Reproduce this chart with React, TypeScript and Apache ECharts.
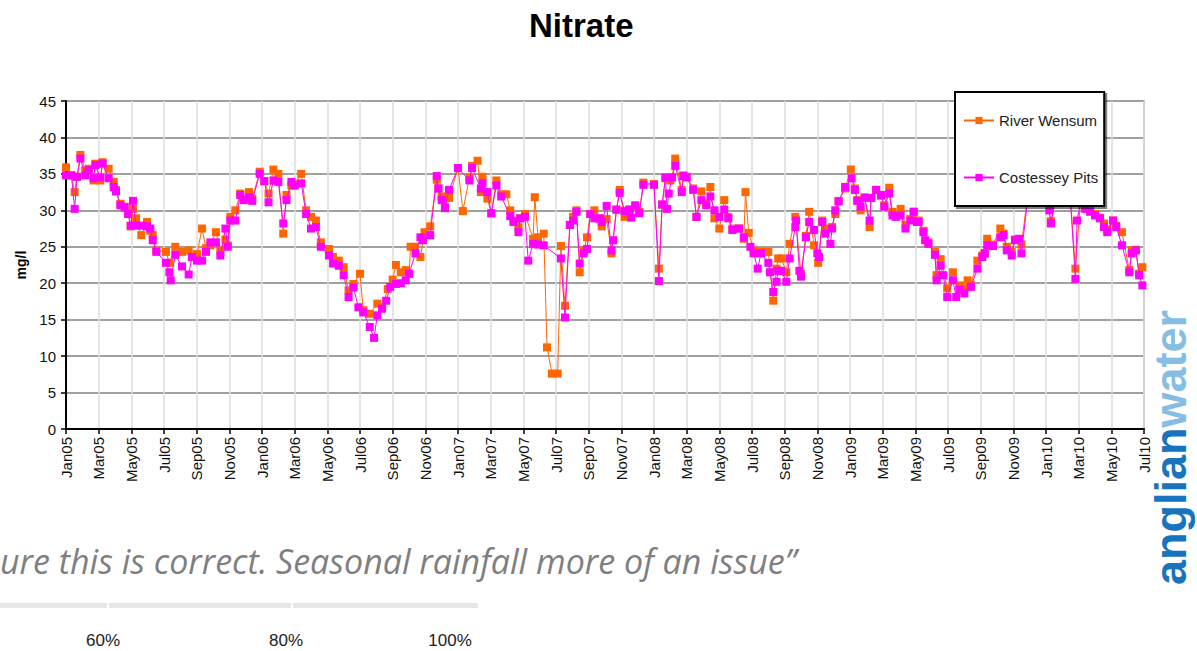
import React, { useEffect, useRef } from "react";
import * as echarts from "echarts";

// Months since 1 Jan 2005 (x) and nitrate in mg/l (y)
const wensumMonths = [
  0.0, 0.33, 0.53, 0.67, 0.88, 1.18, 1.39, 1.69, 1.8, 2.1, 2.24, 2.61, 2.92, 3.06, 3.33, 3.59, 3.8, 3.96, 4.1, 4.29,
  4.61, 4.96, 5.16, 5.31, 5.53, 6.12, 6.33, 6.69, 7.1, 7.51, 7.71, 8.02, 8.33, 8.57, 8.84, 9.18, 9.45, 9.76, 9.9, 10.06,
  10.37, 10.67, 10.88, 11.2, 11.4, 11.86, 12.14, 12.4, 12.7, 13.0, 13.3, 13.5, 13.8, 14.0, 14.4, 14.7, 15.0, 15.3, 15.6, 16.1,
  16.35, 16.7, 17.0, 17.3, 17.6, 18.0, 18.2, 18.6, 19.06, 19.35, 19.7, 20.0, 20.2, 20.5, 20.8, 21.0, 21.1, 21.35, 21.7, 21.95,
  22.3, 22.7, 22.8, 23.0, 23.2, 23.45, 24.0, 24.3, 24.7, 24.86, 25.2, 25.4, 25.5, 25.8, 26.04, 26.35, 26.65, 26.96, 27.2, 27.4,
  27.7, 27.8, 28.1, 28.6, 28.7, 28.9, 29.25, 29.45, 29.75, 30.1, 30.3, 30.55, 30.85, 31.05, 31.25, 31.45, 31.7, 31.9, 32.1, 32.35,
  32.65, 32.8, 33.1, 33.4, 33.7, 33.9, 34.2, 34.5, 34.85, 35.1, 35.35, 36.0, 36.3, 36.5, 36.7, 37.0, 37.1, 37.3, 37.7, 37.8,
  38.0, 38.4, 38.6, 38.9, 39.2, 39.45, 39.7, 40.0, 40.3, 40.55, 40.8, 41.2, 41.5, 41.6, 41.8, 42.1, 42.55, 43.0, 43.3, 43.5,
  43.6, 43.8, 44.1, 44.3, 44.65, 45.0, 45.3, 45.5, 45.8, 46.05, 46.3, 46.5, 46.9, 47.1, 47.3, 47.7, 48.05, 48.3, 48.45, 48.65,
  48.9, 49.2, 49.3, 49.6, 49.9, 50.1, 50.4, 50.6, 50.8, 51.1, 51.4, 51.7, 51.9, 52.2, 52.5, 52.8, 53.2, 53.3, 53.55, 53.95,
  54.3, 54.7, 55.0, 55.2, 55.4, 55.8, 56.1, 56.25, 56.4, 56.75, 57.2, 57.4, 57.6, 57.9, 58.1, 58.5, 58.9, 59.3, 59.7, 60.05,
  60.3, 60.6, 61.0, 61.5, 61.8, 62.1, 62.4, 62.7, 63.0, 63.3, 63.55, 63.75, 64.1, 64.3, 64.65, 65.1, 65.25, 65.5, 65.7, 65.9,
];
const wensumValues = [
  35.9, 34.8, 32.5, 34.6, 37.6, 35.5, 35.7, 34.1, 36.4, 34.1, 36.6, 35.7, 33.9, 32.8, 30.9, 30.5, 29.6, 27.8, 30.2, 28.9,
  26.6, 28.4, 27.2, 26.6, 24.5, 24.3, 22.8, 25.0, 24.3, 24.5, 23.6, 24.0, 27.5, 24.8, 25.2, 27.0, 24.5, 26.0, 25.2, 29.1,
  30.0, 32.3, 31.5, 32.5, 31.6, 35.3, 34.0, 32.3, 35.6, 35.0, 26.8, 32.1, 33.4, 33.6, 35.0, 30.0, 29.1, 28.6, 25.6, 24.7,
  23.6, 23.1, 22.2, 19.0, 19.9, 21.3, 16.3, 15.8, 17.2, 16.7, 19.2, 20.5, 22.5, 21.5, 21.8, 21.3, 25.0, 25.0, 23.6, 27.0,
  27.8, 34.2, 33.0, 31.9, 30.5, 31.7, 35.8, 29.9, 34.5, 36.1, 36.8, 32.5, 34.6, 31.6, 29.6, 34.1, 32.2, 32.2, 30.0, 28.6,
  27.7, 28.9, 29.5, 26.1, 31.8, 26.3, 26.8, 11.2, 7.6, 7.6, 25.1, 16.9, 28.0, 29.1, 30.0, 21.5, 24.5, 26.3, 29.5, 30.0,
  28.9, 27.8, 28.8, 24.1, 30.1, 32.8, 29.1, 30.1, 30.5, 29.8, 33.8, 33.6, 22.0, 30.8, 34.4, 34.1, 34.5, 37.1, 32.8, 34.8,
  34.6, 33.0, 29.1, 32.6, 30.9, 33.2, 28.9, 27.5, 31.4, 29.1, 27.5, 27.5, 26.1, 32.5, 26.9, 24.5, 24.3, 24.3, 17.6, 22.0,
  23.4, 23.4, 21.5, 25.4, 29.1, 21.3, 26.5, 29.8, 25.2, 22.8, 28.6, 27.5, 27.7, 29.5, 31.3, 33.0, 35.6, 33.0, 31.4, 30.0,
  31.8, 27.7, 31.7, 32.8, 32.0, 30.7, 33.1, 29.8, 29.3, 30.2, 28.0, 28.8, 29.8, 28.6, 27.2, 25.6, 24.3, 21.1, 23.3, 19.3,
  21.5, 19.7, 19.3, 20.4, 19.8, 23.1, 23.8, 24.1, 26.1, 25.3, 27.5, 26.8, 25.0, 24.3, 26.0, 25.3, 32.5, 31.5, 32.0, 31.5,
  28.5, 31.5, 32.0, 31.6, 22.0, 31.0, 30.4, 30.0, 29.5, 29.0, 28.2, 27.4, 28.6, 27.9, 27.0, 21.8, 24.5, 24.6, 21.3, 22.2,
];

const costesseyMonths = [
  0.0, 0.33, 0.53, 0.67, 0.88, 1.18, 1.39, 1.69, 1.8, 2.1, 2.24, 2.61, 2.92, 3.06, 3.33, 3.59, 3.8, 3.96, 4.1, 4.29,
  4.61, 4.96, 5.16, 5.31, 5.53, 6.12, 6.33, 6.41, 6.69, 7.1, 7.51, 7.71, 8.02, 8.33, 8.57, 8.84, 9.18, 9.45, 9.76, 9.9,
  10.06, 10.37, 10.67, 10.88, 11.2, 11.4, 11.86, 12.14, 12.4, 12.7, 13.0, 13.3, 13.5, 13.8, 14.0, 14.4, 14.7, 15.0, 15.3, 15.6,
  16.1, 16.35, 16.7, 17.0, 17.3, 17.6, 17.9, 18.2, 18.6, 18.86, 19.06, 19.35, 19.6, 19.85, 20.2, 20.5, 20.8, 21.0, 21.4, 21.7,
  21.85, 22.3, 22.7, 22.8, 23.0, 23.2, 23.45, 24.0, 24.7, 24.86, 25.4, 25.5, 25.8, 26.04, 26.35, 26.65, 27.2, 27.4, 27.7, 27.8,
  28.1, 28.3, 28.6, 28.9, 29.25, 30.3, 30.55, 30.85, 31.05, 31.25, 31.45, 31.7, 31.9, 32.1, 32.35, 32.65, 32.8, 33.1, 33.4, 33.5,
  33.7, 33.9, 34.2, 34.5, 34.6, 34.85, 35.1, 35.35, 36.0, 36.3, 36.5, 36.7, 36.8, 36.9, 37.1, 37.3, 37.7, 37.8, 38.0, 38.4,
  38.6, 38.9, 39.2, 39.45, 39.7, 40.0, 40.3, 40.55, 40.8, 41.2, 41.5, 41.9, 42.1, 42.35, 42.55, 43.0, 43.1, 43.3, 43.5, 43.6,
  43.8, 44.1, 44.3, 44.65, 44.7, 44.9, 45.0, 45.3, 45.5, 45.8, 46.0, 46.1, 46.3, 46.5, 46.8, 46.9, 47.1, 47.3, 47.7, 48.1,
  48.3, 48.45, 48.65, 48.9, 49.2, 49.3, 49.6, 49.9, 50.1, 50.4, 50.6, 50.8, 51.1, 51.4, 51.7, 51.9, 52.1, 52.2, 52.5, 52.6,
  52.8, 53.2, 53.3, 53.55, 53.7, 53.95, 54.3, 54.5, 54.7, 55.0, 55.4, 55.8, 56.1, 56.25, 56.4, 56.75, 57.2, 57.4, 57.6, 57.9,
  58.1, 58.35, 58.5, 58.9, 59.3, 59.7, 60.05, 60.2, 60.3, 60.6, 61.0, 61.5, 61.8, 61.9, 62.1, 62.4, 62.7, 63.0, 63.3, 63.55,
  63.75, 64.1, 64.3, 64.65, 65.1, 65.25, 65.5, 65.7, 65.9,
];
const costesseyValues = [
  34.8, 34.8, 30.2, 34.6, 37.1, 34.8, 35.5, 34.4, 36.2, 34.5, 36.4, 34.4, 33.2, 32.6, 30.7, 30.4, 29.5, 27.9, 31.3, 27.9,
  27.9, 27.8, 27.5, 25.9, 24.3, 22.8, 21.5, 20.4, 23.9, 22.3, 21.2, 23.6, 23.1, 23.1, 24.3, 25.6, 25.6, 23.8, 27.5, 25.0,
  28.6, 28.6, 32.1, 31.4, 31.8, 31.3, 35.0, 34.0, 31.1, 34.1, 33.9, 28.2, 31.4, 33.9, 33.4, 33.7, 29.5, 27.5, 27.7, 25.0,
  23.8, 22.7, 22.4, 21.1, 18.1, 19.4, 16.7, 16.0, 14.0, 12.5, 15.6, 16.5, 17.6, 19.5, 19.9, 20.0, 20.4, 21.3, 24.1, 26.3,
  25.9, 26.6, 34.7, 33.0, 31.4, 30.3, 32.8, 35.8, 34.1, 35.8, 33.0, 33.7, 32.5, 29.6, 33.4, 31.9, 29.2, 28.4, 27.0, 28.9,
  29.1, 23.1, 25.4, 25.3, 25.2, 23.4, 15.3, 28.0, 28.6, 29.8, 22.7, 24.1, 24.7, 29.5, 28.9, 28.9, 28.4, 30.6, 24.5, 25.9,
  30.1, 32.4, 29.9, 30.1, 29.0, 30.7, 29.6, 33.5, 33.5, 20.3, 30.8, 34.5, 30.2, 32.3, 34.5, 36.1, 32.5, 34.7, 34.5, 32.8,
  29.1, 31.4, 30.7, 31.9, 30.0, 29.1, 30.1, 28.9, 27.3, 27.5, 26.3, 25.0, 24.1, 22.0, 24.1, 22.8, 21.5, 18.8, 20.2, 21.7,
  21.7, 20.2, 23.4, 27.7, 28.6, 21.7, 20.9, 26.3, 28.4, 27.3, 24.1, 23.6, 28.4, 26.8, 25.4, 27.5, 30.0, 31.2, 33.2, 34.4,
  32.8, 31.3, 30.5, 31.7, 28.6, 31.7, 32.8, 32.1, 30.5, 32.3, 29.3, 29.1, 29.3, 27.5, 28.6, 29.8, 28.4, 28.4, 27.0, 25.9,
  25.4, 23.9, 20.4, 22.4, 21.1, 18.1, 20.4, 18.1, 19.1, 18.6, 19.5, 22.0, 23.6, 24.1, 25.2, 25.1, 26.3, 26.6, 24.5, 23.8,
  25.9, 26.1, 24.1, 32.0, 31.5, 32.5, 31.0, 30.0, 28.2, 31.8, 32.0, 31.2, 20.6, 28.6, 31.0, 30.2, 29.8, 29.3, 28.9, 27.7,
  27.0, 28.6, 27.7, 25.2, 21.5, 24.1, 24.5, 21.1, 19.7,
];

const monthNames = ["Jan", "Feb", "Mar", "Apr", "May", "Jun", "Jul", "Aug", "Sep", "Oct", "Nov", "Dec"];
const yTicks = { min: 0, max: 45, interval: 5 };
const xTicks = { min: 0, max: 66, interval: 2 };
const seriesNames = ["River Wensum", "Costessey Pits"];
const seriesColors = ["#ff6600", "#ff00ff"];
const footerText = "ure this is correct. Seasonal rainfall more of an issue\u201d";
const percentLabels = ["60%", "80%", "100%"];

const FONT = "'Liberation Sans', Arial, sans-serif";

export default function App() {
  const ref = useRef<HTMLDivElement>(null);
  useEffect(() => {
    if (!ref.current) return;
    const chart = echarts.init(ref.current, null, { renderer: "svg" });
    const pair = (xs: number[], ys: number[]) => xs.map((x, i) => [x, ys[i]]);
    const mkSeries = (i: number, data: number[][]) => ({
      name: seriesNames[i],
      type: "line",
      data,
      symbol: "rect",
      symbolSize: 8,
      showAllSymbol: true,
      lineStyle: { color: seriesColors[i], width: 1 },
      itemStyle: { color: seriesColors[i] },
      z: 2 + i,
    });
    chart.setOption({
      animation: false,
      backgroundColor: "#ffffff",
      textStyle: { fontFamily: FONT },
      title: {
        text: "Nitrate",
        left: 524,
        top: 4,
        textStyle: { fontSize: 33, fontWeight: "bold", color: "#000", fontFamily: FONT },
      },
      legend: {
        orient: "vertical",
        left: 955,
        top: 92,
        padding: [21, 6, 21, 8],
        itemGap: 42,
        itemWidth: 30,
        itemHeight: 9,
        backgroundColor: "#ffffff",
        borderColor: "#000",
        borderWidth: 2,
        shadowColor: "rgba(0,0,0,0.5)",
        shadowOffsetX: 2,
        shadowOffsetY: 2,
        shadowBlur: 1,
        textStyle: { fontSize: 15, color: "#222", fontFamily: FONT },
        data: seriesNames,
        z: 10,
      },
      grid: {
        left: 66,
        top: 101,
        right: 53,
        bottom: 222,
        show: true,
        borderColor: "#999",
        borderWidth: 1.5,
        outerBoundsMode: "none",
      },
      xAxis: {
        type: "value",
        min: xTicks.min,
        max: xTicks.max,
        interval: xTicks.interval,
        axisLine: { lineStyle: { color: "#000", width: 2 } },
        axisTick: { show: true, length: 5, lineStyle: { color: "#000", width: 1.5 } },
        axisLabel: {
          rotate: 90,
          margin: 8,
          fontSize: 15,
          color: "#111",
          fontFamily: FONT,
          formatter: (v: number) => {
            const m = Math.round(v);
            const yr = 5 + Math.floor(m / 12);
            return monthNames[m % 12] + String(yr).padStart(2, "0");
          },
        },
        splitLine: { show: true, lineStyle: { color: "#dddddd", width: 1.5 } },
      },
      yAxis: {
        type: "value",
        min: yTicks.min,
        max: yTicks.max,
        interval: yTicks.interval,
        name: "mg/l",
        nameLocation: "middle",
        nameRotate: 90,
        nameGap: 36,
        nameTextStyle: { fontSize: 14, fontWeight: "bold", color: "#000", fontFamily: FONT },
        axisLine: { show: true, lineStyle: { color: "#000", width: 2 } },
        axisTick: { show: true, length: 5, lineStyle: { color: "#000", width: 1.5 } },
        axisLabel: { fontSize: 15, color: "#111", margin: 10, fontFamily: FONT },
        splitLine: { show: true, lineStyle: { color: "#a0a0a0", width: 2 } },
      },
      series: [
        mkSeries(0, pair(wensumMonths, wensumValues)),
        mkSeries(1, pair(costesseyMonths, costesseyValues)),
      ],
      graphic: [
        {
          type: "text",
          x: 0,
          y: 544,
          style: {
            text: footerText,
            font: "italic 34px 'Open Sans', sans-serif",
            fill: "#7f7f7f",
          },
        },
        { type: "rect", shape: { x: 0, y: 603, width: 478, height: 5 }, style: { fill: "#e6e6e6" } },
        { type: "rect", shape: { x: 107, y: 603, width: 2, height: 5 }, style: { fill: "#ffffff" } },
        { type: "rect", shape: { x: 291, y: 603, width: 2, height: 5 }, style: { fill: "#ffffff" } },
        ...percentLabels.map((t, i) => ({
          type: "text",
          x: [103, 286, 450][i],
          y: 640,
          style: {
            text: t,
            font: `17px ${FONT}`,
            fill: "#222",
            textAlign: "center",
            textVerticalAlign: "middle",
          },
        })),
        {
          type: "text",
          x: 1170,
          y: 585,
          rotation: Math.PI / 2,
          style: {
            text: "{a|anglian}{b|water}",
            textAlign: "left",
            textVerticalAlign: "middle",
            rich: {
              a: { fill: "#1874be", font: `bold 45px ${FONT}` },
              b: { fill: "#86bde3", font: `bold 45px ${FONT}` },
            },
          },
        },
      ],
    });
    return () => chart.dispose();
  }, []);
  return (
    <div
      ref={ref}
      style={{ position: "fixed", left: 0, top: 0, width: 1197, height: 651 }}
    />
  );
}
